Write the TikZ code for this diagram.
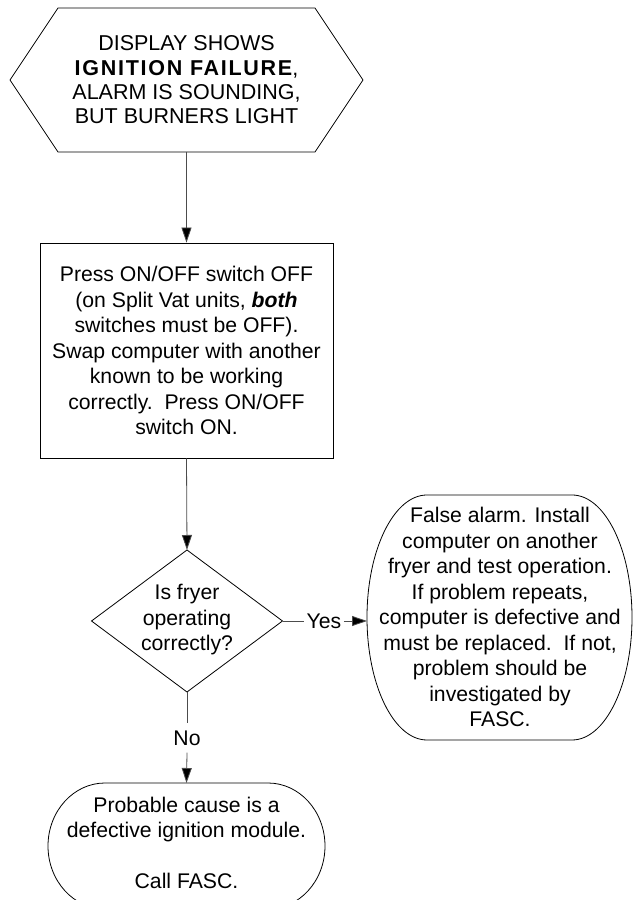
\documentclass[tikz,border=0pt]{standalone}
\usepackage{fontspec}
\setmainfont{Liberation Sans}
\usetikzlibrary{arrows.meta}
\begin{document}
\begin{tikzpicture}[x=1pt,y=1pt,
  shapeline/.style={draw=black, line width=0.8pt},
  conn/.style={draw=black!70, line width=0.8pt},
  arr/.style={conn, -{Triangle[length=15pt,width=10pt,fill=black]}},
  txt/.style={align=center, font=\fontsize{21.2}{25.5}\selectfont, inner sep=0pt},
  hextxt/.style={align=center, font=\fontsize{21.5}{24.3}\selectfont, inner sep=0pt},
  lbl/.style={font=\fontsize{21.2}{25.5}\selectfont, inner xsep=2.5pt, inner ysep=7pt},
]
\useasboundingbox (0,0) rectangle (634,900);
\begin{scope}
\clip (0,0) rectangle (634,900);
% hexagon
\draw[shapeline] (10,820) -- (58,892) -- (315,892) -- (363,820) -- (315,748) -- (58,748) -- cycle;
\node[hextxt] (hex) at (186.5,820) {DISPLAY SHOWS\\{\bfseries\addfontfeature{LetterSpace=8}IGNITION FAILURE},\\ALARM IS SOUNDING,\\BUT BURNERS LIGHT};
\coordinate (hexB) at (186.5,748);
% rectangle
\node[shapeline, txt, minimum width=293pt, minimum height=215pt] (rect) at (186.5,549.5)
 {Press ON/OFF switch OFF\\(on Split Vat units, \textbf{\textit{both}}\\switches must be OFF).\\Swap computer with another\\known to be working\\correctly.\ \ Press ON/OFF\\switch ON.};
% diamond
\draw[shapeline] (187,350) -- (282.5,279) -- (187,208) -- (91.5,279) -- cycle;
\node[txt] (dia) at (187,280) {Is fryer\\operating\\correctly?};
\coordinate (diaT) at (187,350);
\coordinate (diaB) at (187,208);
\coordinate (diaR) at (282.5,279);
% right oval
\draw[shapeline] (427,405) -- (572,405) arc[start angle=90,end angle=-90,x radius=60,y radius=122.5]
  -- (427,160) arc[start angle=270,end angle=90,x radius=60,y radius=122.5] -- cycle;
\node[txt] (oval) at (500,283) {False alarm. Install\\computer on another\\fryer and test operation.\\If problem repeats,\\computer is defective and\\must be replaced.\ \ If not,\\problem should be\\investigated by\\FASC.};
\coordinate (ovL) at (367,279);
% bottom terminator
\draw[shapeline] (105,117) -- (268,117) arc[start angle=90,end angle=-90,x radius=57,y radius=63]
  -- (105,-9) arc[start angle=270,end angle=90,x radius=57,y radius=63] -- cycle;
\node[txt] (term) at (186.5,57) {Probable cause is a\\defective ignition module.\\\mbox{}\\Call FASC.};
\coordinate (termT) at (186.5,117);
% labels
\node[lbl] (yes) at (324,279) {Yes};
\node[lbl] (no) at (187,162) {No};
% connectors
\draw[arr] (hexB) -- (rect.north);
\draw[arr] (rect.south) -- (diaT);
\draw[conn] (diaR) -- (yes.west);
\draw[arr] (yes.east) -- (ovL);
\draw[conn] (diaB) -- (no.north);
\draw[arr] (no.south) -- (termT);
\end{scope}
\end{tikzpicture}
\end{document}
